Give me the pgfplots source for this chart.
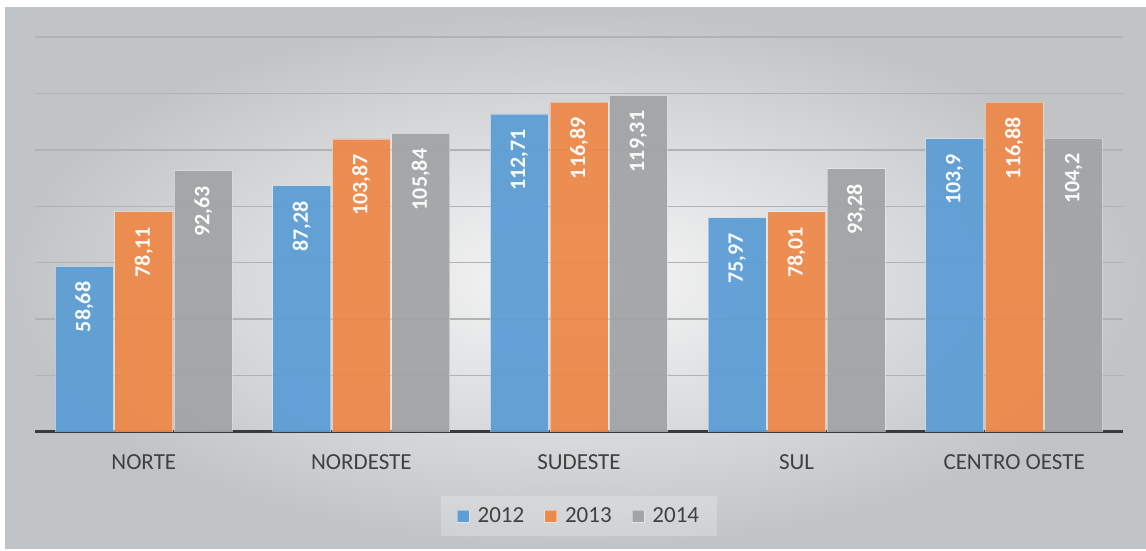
\documentclass[border=0pt]{standalone}
\usepackage{fontspec}
\setmainfont{Carlito}
\usepackage{pgfplots}
\pgfplotsset{compat=1.18}
\definecolor{cblue}{RGB}{93,158,213}
\definecolor{corange}{RGB}{237,137,75}
\definecolor{cgray}{RGB}{162,164,166}
\definecolor{ctext}{RGB}{64,64,64}
\definecolor{cgrid}{RGB}{176,178,180}
\definecolor{cbase}{RGB}{58,58,58}
\begin{document}
\begin{tikzpicture}
\fill[white] (0pt,0pt) rectangle (1146pt,551pt);
\shade[inner color={rgb,255:red,247;green,247;blue,247}, outer color={rgb,255:red,193;green,196;blue,199}] (5pt,2pt) rectangle (1146pt,543pt);
\begin{axis}[
  at={(35pt,119pt)}, anchor=south west,
  scale only axis, width=1088pt, height=395pt,
  xmin=-0.5, xmax=4.5, ymin=0, ymax=140,
  ybar=1.5pt, bar width=58pt,
  axis line style={draw=none},
  major tick length=0pt,
  ytick={20,40,...,140}, yticklabels={},
  ymajorgrids, major grid style={line width=1.5pt, color=cgrid},
  extra y ticks={0}, extra y tick labels={},
  extra y tick style={grid=major, major grid style={line width=3pt, color=cbase}},
  xtick={0,1,2,3,4},
  xticklabels={NORTE,NORDESTE,SUDESTE,SUL,CENTRO OESTE},
  xticklabel style={font=\fontsize{23}{27}\selectfont, text=ctext, anchor=north, inner sep=0pt, yshift=-22pt},
  nodes near coords, point meta=explicit symbolic,
  every node near coord/.append style={rotate=90, anchor=east, font=\fontsize{22}{24}\selectfont\bfseries, text=white, inner xsep=15pt, inner ysep=0pt},
  legend columns=3,
  legend style={at={(0.5,-0.213)}, anchor=center, draw=none, fill=white, fill opacity=0.22, text opacity=1, draw opacity=0,
    font=\fontsize{23}{27}\selectfont, text=ctext, inner xsep=16pt, inner ysep=10pt,
    /tikz/every odd column/.append style={column sep=6pt},
    /tikz/every even column/.append style={column sep=18pt}},
  sq/.style={legend image code/.code={\fill[##1, fill opacity=1] (0pt,-6pt) rectangle (12pt,6pt);}},
]
\addplot[fill=cblue, draw=white, draw opacity=0.4, line width=0.8pt, fill opacity=0.95, sq] coordinates {
  (0,58.68) [58,68] (1,87.28) [87,28] (2,112.71) [112,71] (3,75.97) [75,97] (4,103.9) [103,9]};
\addplot[fill=corange, draw=white, draw opacity=0.4, line width=0.8pt, fill opacity=0.95, sq] coordinates {
  (0,78.11) [78,11] (1,103.87) [103,87] (2,116.89) [116,89] (3,78.01) [78,01] (4,116.88) [116,88]};
\addplot[fill=cgray, draw=white, draw opacity=0.4, line width=0.8pt, fill opacity=0.95, sq] coordinates {
  (0,92.63) [92,63] (1,105.84) [105,84] (2,119.31) [119,31] (3,93.28) [93,28] (4,104.2) [104,2]};
\legend{2012,2013,2014}
\end{axis}
\end{tikzpicture}
\end{document}
